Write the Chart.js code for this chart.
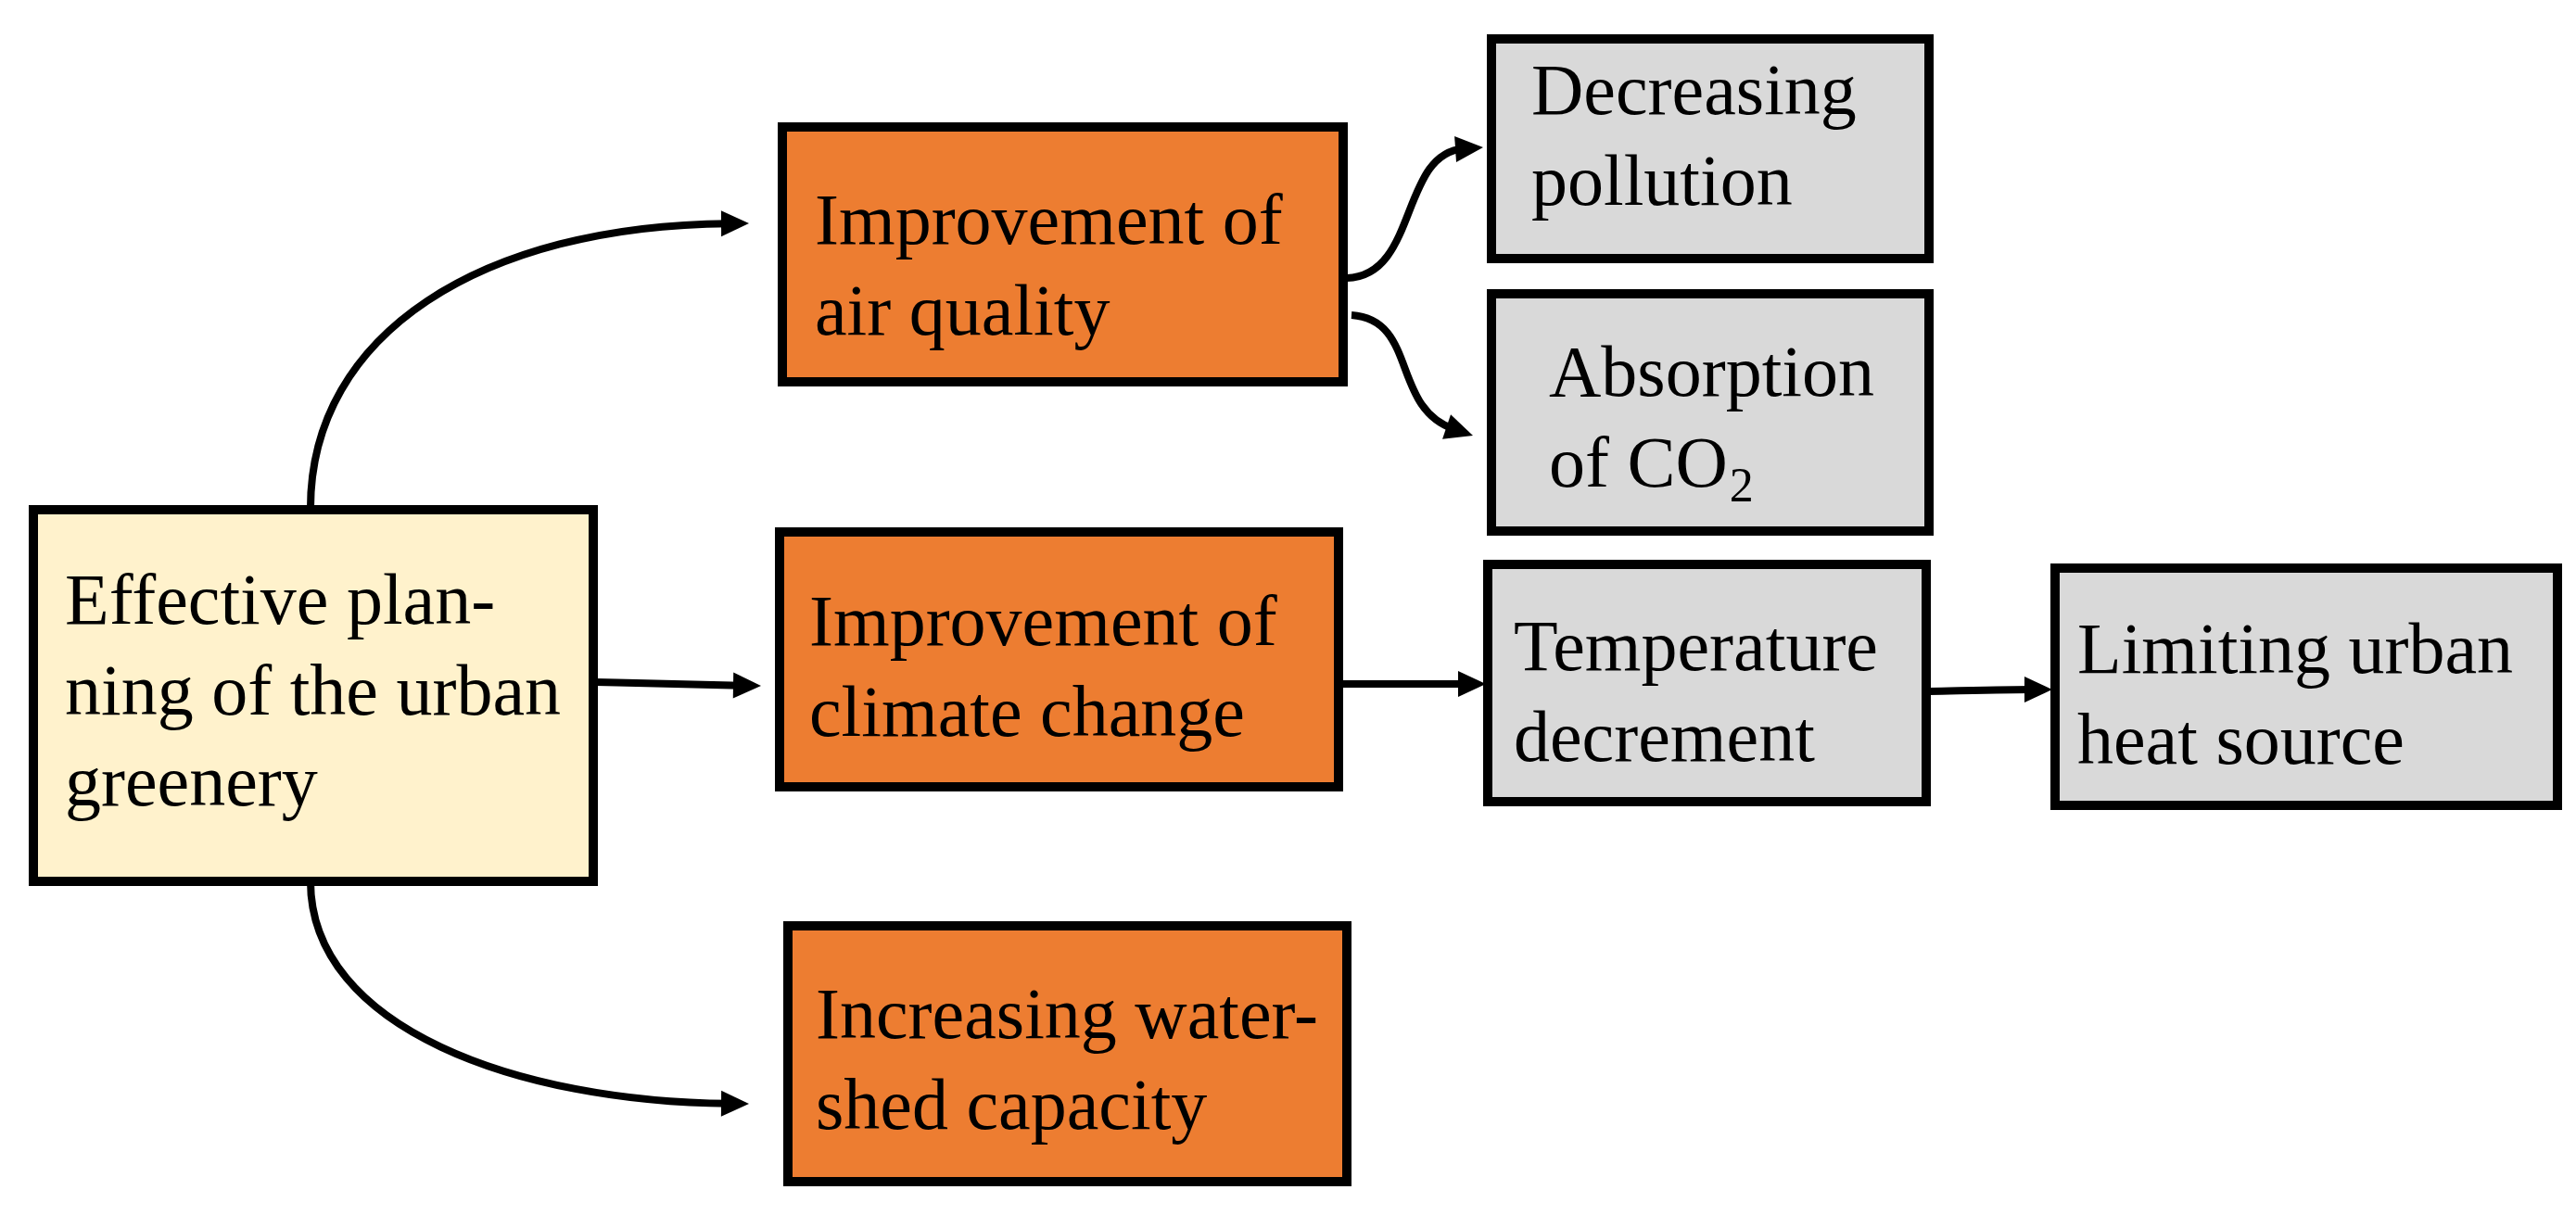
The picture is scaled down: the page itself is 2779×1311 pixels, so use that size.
<!DOCTYPE html>
<html>
<head>
<meta charset="utf-8">
<script src="https://cdn.jsdelivr.net/npm/chart.js@4.4.1/dist/chart.umd.min.js"></script>
<style>
  html, body { margin: 0; padding: 0; background: #fff; }
  #wrap { width: 2779px; height: 1311px; }
</style>
</head>
<body>
<div id="wrap"><canvas id="flow"></canvas></div>
<script>
// Node texts (lines); "_" marks a subscript run
const nodeLabels = [
  ['Effective plan-', 'ning of the urban', 'greenery'],
  ['Improvement of', 'air quality'],
  ['Improvement of', 'climate change'],
  ['Increasing water-', 'shed capacity'],
  ['Decreasing', 'pollution'],
  ['Absorption', 'of CO_2'],
  ['Temperature', 'decrement'],
  ['Limiting urban', 'heat source']
];
const nodeFills = ['#FFF2CC', '#ED7D31', '#ED7D31', '#ED7D31', '#D9D9D9', '#D9D9D9', '#D9D9D9', '#D9D9D9'];

// Layout in diagram units: [x0, y0, x1, y1], first baseline, text x
const nodeBoxes = [
  [36, 550, 640, 951], [844, 137, 1449, 412], [841, 574, 1444, 849], [850, 999, 1453, 1275],
  [1609, 42, 2081, 279], [1609, 317, 2081, 573], [1605, 609, 2078, 865], [2217, 613, 2759, 869]
];
const textAnchors = [[70, 673], [879, 263], [873, 696], [880, 1120], [1652, 123], [1671, 427], [1633, 723], [2241, 726]];
const lineGap = 98;

// Connectors: cubic bezier points [start, ctrl1, ctrl2, end]
const connectors = [
  [[335, 548], [335, 360], [520, 243], [808, 241]],
  [[643, 736], [700, 737], [760, 739], [821, 740]],
  [[335, 951], [335, 1110], [560, 1189], [808, 1191]],
  [[1453, 300], [1530, 298], [1510, 165], [1600, 159]],
  [[1458, 340], [1530, 345], [1500, 440], [1589, 470]],
  [[1449, 738], [1500, 738], [1550, 738], [1603, 738]],
  [[2081, 746], [2130, 745], [2170, 744], [2214, 744]]
];

const diagramPlugin = {
  id: 'diagram',
  afterDatasetsDraw(chart) {
    const { ctx, scales: { x, y } } = chart;
    const px = v => x.getPixelForValue(v);
    const py = v => y.getPixelForValue(v);
    ctx.save();

    // connectors
    ctx.strokeStyle = '#000';
    ctx.fillStyle = '#000';
    ctx.lineWidth = 8;
    connectors.forEach(c => {
      const [p0, p1, p2, p3] = c;
      const ang = Math.atan2(py(p3[1]) - py(p2[1]), px(p3[0]) - px(p2[0]));
      const len = 30, wid = 14;
      const ex = px(p3[0]) - Math.cos(ang) * len * 0.7;
      const ey = py(p3[1]) - Math.sin(ang) * len * 0.7;
      ctx.beginPath();
      ctx.moveTo(px(p0[0]), py(p0[1]));
      ctx.bezierCurveTo(px(p1[0]), py(p1[1]), px(p2[0]), py(p2[1]), ex, ey);
      ctx.stroke();
      const tx = px(p3[0]), ty = py(p3[1]);
      const bx = tx - Math.cos(ang) * len, by = ty - Math.sin(ang) * len;
      ctx.beginPath();
      ctx.moveTo(tx, ty);
      ctx.lineTo(bx - Math.sin(ang) * wid, by + Math.cos(ang) * wid);
      ctx.lineTo(bx + Math.sin(ang) * wid, by - Math.cos(ang) * wid);
      ctx.closePath();
      ctx.fill();
    });

    // boxes
    nodeBoxes.forEach((b, i) => {
      const x0 = px(b[0]), y0 = py(b[1]), x1 = px(b[2]), y1 = py(b[3]);
      ctx.fillStyle = nodeFills[i];
      ctx.fillRect(x0, y0, x1 - x0, y1 - y0);
      ctx.lineWidth = 10;
      ctx.strokeStyle = '#000';
      ctx.strokeRect(x0, y0, x1 - x0, y1 - y0);

      ctx.fillStyle = '#000';
      ctx.textBaseline = 'alphabetic';
      ctx.textAlign = 'left';
      nodeLabels[i].forEach((line, k) => {
        const tx = px(textAnchors[i][0]);
        const ty = py(textAnchors[i][1] + k * lineGap);
        const parts = line.split('_');
        ctx.font = '78px "Liberation Serif", "Times New Roman", serif';
        ctx.fillText(parts[0], tx, ty);
        if (parts[1]) {
          const w = ctx.measureText(parts[0]).width;
          ctx.font = '52px "Liberation Serif", "Times New Roman", serif';
          ctx.fillText(parts[1], tx + w + 2, ty + 16);
        }
      });
    });
    ctx.restore();
  }
};

new Chart(document.getElementById('flow'), {
  type: 'scatter',
  data: { datasets: [{ data: [], pointRadius: 0 }] },
  options: {
    responsive: true,
    maintainAspectRatio: false,
    animation: false,
    layout: { padding: 0 },
    plugins: { legend: { display: false }, tooltip: { enabled: false } },
    scales: {
      x: { type: 'linear', min: 0, max: 2779, display: false },
      y: { type: 'linear', min: 0, max: 1311, reverse: true, display: false }
    }
  },
  plugins: [diagramPlugin]
});
</script>
</body>
</html>
